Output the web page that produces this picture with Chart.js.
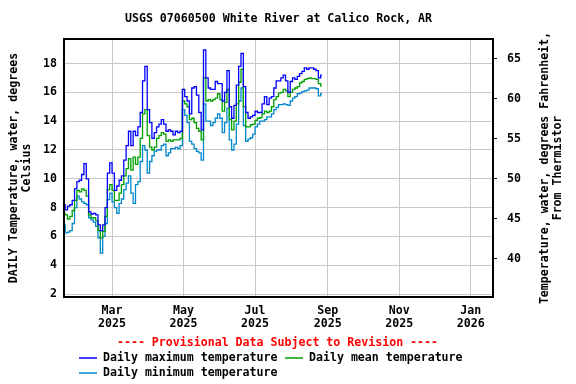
<!DOCTYPE html>
<html>
<head>
<meta charset="utf-8">
<title>USGS 07060500 White River at Calico Rock, AR</title>
<script src="https://cdn.jsdelivr.net/npm/chart.js@4.4.1/dist/chart.umd.min.js"></script>
<style>
  html, body { margin: 0; padding: 0; background: #fff; }
  canvas { display: block; }
</style>
</head>
<body>
<canvas id="tempChart" width="576" height="384"></canvas>
<script>
//********************************   DATA   ********************************
// day of year 2025 (Jan 1 = 0), one reading every 2 days
const days = [
  18, 20, 22, 24, 26, 28, 30, 32, 34, 36, 38, 40, 42, 44, 46, 48, 50, 52, 54, 56,
  58, 60, 62, 64, 66, 68, 70, 72, 74, 76, 78, 80, 82, 84, 86, 88, 90, 92, 94, 96,
  98, 100, 102, 104, 106, 108, 110, 112, 114, 116, 118, 120, 122, 124, 126, 128, 130, 132, 134, 136,
  138, 140, 142, 144, 146, 148, 150, 152, 154, 156, 158, 160, 162, 164, 166, 168, 170, 172, 174, 176,
  178, 180, 182, 184, 186, 188, 190, 192, 194, 196, 198, 200, 202, 204, 206, 208, 210, 212, 214, 216,
  218, 220, 222, 224, 226, 228, 230, 232, 234, 236, 238
];
const maxTemp = [
  8.2, 7.85, 8.1, 8.2, 8.5, 9.3, 9.8, 9.9, 10.3, 11.05, 10.0, 7.7, 7.55, 7.6, 7.5, 6.8, 6.4, 6.8, 8.0, 10.4,
  11.1, 10.4, 9.2, 9.5, 9.9, 10.2, 11.3, 12.3, 13.3, 12.3, 13.3, 13.0, 13.6, 14.6, 16.8, 17.8, 14.8, 13.9, 12.8, 13.2,
  13.6, 13.8, 14.1, 13.8, 13.3, 13.4, 13.3, 13.05, 13.3, 13.2, 13.3, 16.2, 15.7, 15.4, 14.5, 16.3, 16.4, 15.8, 14.6, 13.4,
  18.95, 17.0, 16.3, 16.2, 16.2, 16.75, 16.6, 16.6, 15.4, 16.0, 17.5, 15.0, 14.2, 15.1, 16.5, 17.8, 18.7, 16.4, 14.6, 14.2,
  14.3, 14.4, 14.7, 14.6, 14.6, 15.2, 15.7, 15.15, 15.6, 15.7, 16.3, 16.8, 16.8, 17.0, 17.2, 16.8, 16.0, 16.75, 17.0, 16.9,
  17.1, 17.3, 17.45, 17.7, 17.6, 17.7, 17.7, 17.6, 17.5, 17.0, 17.2
];
const meanTemp = [
  7.6, 7.5, 7.2, 7.4, 7.8, 8.5, 9.2, 9.1, 9.3, 9.2, 8.8, 7.5, 7.3, 7.3, 7.1, 6.4, 5.9, 6.35, 7.4, 9.25,
  9.6, 9.2, 8.5, 8.5, 9.0, 9.6, 10.2, 10.7, 11.4, 10.6, 11.5, 11.0, 11.5, 12.8, 14.5, 14.8, 13.0, 12.2, 12.0, 12.2,
  12.8, 13.0, 13.2, 13.1, 12.6, 12.7, 12.6, 12.7, 12.7, 12.7, 12.8, 15.4, 15.2, 15.0, 14.1, 14.2, 13.9, 13.5, 13.3, 12.7,
  17.0, 15.4, 15.5, 15.4, 15.5, 15.6, 15.9, 15.5, 14.7, 15.3, 16.2, 14.1, 13.4, 14.0, 15.2, 16.7, 17.6, 15.0, 13.6, 13.6,
  13.75, 13.8, 14.05, 14.2, 14.25, 14.5, 14.7, 14.6, 14.7, 15.0, 15.5, 15.7, 15.95, 16.0, 16.2, 16.1, 15.7, 16.0, 16.2, 16.3,
  16.4, 16.65, 16.75, 16.9, 16.95, 17.0, 16.95, 16.95, 16.9, 16.6, 16.45
];
const minTemp = [
  6.8, 6.25, 6.3, 6.4, 6.9, 8.0, 8.8, 8.6, 8.4, 8.3, 8.2, 7.3, 7.15, 7.0, 6.7, 5.9, 4.85, 6.0, 6.9, 8.55,
  9.0, 8.4, 8.0, 7.6, 8.3, 8.6, 9.25, 9.7, 10.2, 9.0, 8.3, 9.6, 9.8, 11.2, 12.3, 12.0, 10.4, 11.2, 11.6, 11.9,
  12.0, 12.0, 12.3, 12.4, 11.6, 11.8, 12.1, 12.1, 12.2, 12.1, 12.3, 14.8, 14.4, 13.9, 12.6, 12.4, 12.1, 11.9, 11.8, 11.3,
  15.2, 14.0, 14.0, 13.7, 13.9, 14.2, 14.5, 14.2, 13.2, 13.9, 14.9, 12.7, 12.0, 12.4, 13.8, 15.4, 16.3, 13.7, 12.6, 12.75,
  12.85, 13.1, 13.6, 13.8, 14.0, 14.0, 14.1, 14.3, 14.3, 14.5, 14.8, 14.95, 15.15, 15.15, 15.2, 15.15, 15.1, 15.4, 15.6, 15.7,
  15.9, 15.95, 16.05, 16.1, 16.15, 16.3, 16.3, 16.3, 16.25, 15.75, 15.9
];
const celsiusTicks = [2, 4, 6, 8, 10, 12, 14, 16, 18];
const fahrenheitTicks = [40, 45, 50, 55, 60, 65];
const monthTickDays = [59, 120, 181, 243, 304, 365];
const monthTickLabels = [
  ['Mar', '2025'], ['May', '2025'], ['Jul', '2025'], ['Sep', '2025'], ['Nov', '2025'], ['Jan', '2026']
];

//********************************   SETUP   ********************************
const cMin = 1.8, cMax = 19.7;
const toF = c => c * 9 / 5 + 32;
const FONT = 'bold 11.6px "DejaVu Sans Mono"';

Chart.defaults.font.family = '"DejaVu Sans Mono"';
Chart.defaults.font.size = 11.6;
Chart.defaults.font.weight = 'bold';
Chart.defaults.font.lineHeight = 1.1;
Chart.defaults.color = '#000';

const points = arr => days.map((d, i) => ({x: d, y: arr[i]}));

const series = [
  {label: 'Daily maximum temperature', data: maxTemp, color: '#0000ff'},
  {label: 'Daily mean temperature', data: meanTemp, color: '#00a000'},
  {label: 'Daily minimum temperature', data: minTemp, color: '#0088cc'}
];

// title, axis titles, frame and legend
const decorations = {
  id: 'decorations',
  afterDraw(chart) {
    const {ctx, chartArea: a} = chart;
    const midX = (a.left + a.right) / 2;
    const midY = (a.top + a.bottom) / 2;
    ctx.save();
    ctx.strokeStyle = '#000';
    ctx.lineWidth = 2;
    ctx.strokeRect(a.left, a.top, a.right - a.left, a.bottom - a.top);

    ctx.font = FONT;
    ctx.textAlign = 'center';
    ctx.textBaseline = 'middle';
    ctx.fillStyle = '#000';
    ctx.fillText('USGS 07060500 White River at Calico Rock, AR', midX, 19);

    const vText = (txt, x) => {
      ctx.save();
      ctx.translate(x, midY);
      ctx.rotate(-Math.PI / 2);
      ctx.fillText(txt, 0, 0);
      ctx.restore();
    };
    vText('DAILY Temperature, water, degrees', 14);
    vText('Celsius', 27);
    vText('Temperature, water, degrees Fahrenheit,', 545);
    vText('From Thermistor', 558);

    ctx.fillStyle = '#ff0000';
    ctx.fillText('---- Provisional Data Subject to Revision ----', midX - 1, 343);

    // legend
    const slots = [{x: 79, y: 358}, {x: 285, y: 358}, {x: 79, y: 373}];
    ctx.textAlign = 'left';
    series.forEach((s, i) => {
      const p = slots[i];
      ctx.strokeStyle = s.color;
      ctx.lineWidth = 1.5;
      ctx.beginPath();
      ctx.moveTo(p.x, p.y);
      ctx.lineTo(p.x + 18, p.y);
      ctx.stroke();
      ctx.fillStyle = '#000';
      ctx.fillText(s.label, p.x + 24, p.y);
    });
    ctx.restore();
  }
};

const tempChart = new Chart(document.getElementById('tempChart').getContext('2d'), {
  type: 'line',
  data: {
    datasets: series.map(s => ({
      label: s.label,
      data: points(s.data),
      borderColor: s.color,
      borderWidth: 1.3,
      pointRadius: 0,
      stepped: 'middle',
      fill: false,
      yAxisID: 'y'
    }))
  },
  options: {
    responsive: false,
    animation: false,
    devicePixelRatio: 1,
    layout: {padding: {top: 39, left: 0, right: 0, bottom: 0}},
    plugins: {legend: {display: false}, tooltip: {enabled: false}, title: {display: false}},
    scales: {
      x: {
        type: 'linear',
        min: 18,
        max: 384,
        afterBuildTicks: scale => { scale.ticks = monthTickDays.map(v => ({value: v})); },
        afterFit: scale => { scale.height = 87; },
        grid: {color: '#c8c8c8', drawTicks: false},
        border: {display: false},
        ticks: {
          autoSkip: false,
          maxRotation: 0,
          padding: 8,
          callback: (value, index) => monthTickLabels[index]
        }
      },
      y: {
        type: 'linear',
        position: 'left',
        min: cMin,
        max: cMax,
        afterBuildTicks: scale => { scale.ticks = celsiusTicks.map(v => ({value: v})); },
        afterFit: scale => { scale.width = 64; },
        grid: {color: '#c8c8c8', drawTicks: false},
        border: {display: false},
        ticks: {padding: 7}
      },
      yF: {
        type: 'linear',
        position: 'right',
        min: toF(cMin),
        max: toF(cMax),
        afterBuildTicks: scale => { scale.ticks = fahrenheitTicks.map(v => ({value: v})); },
        afterFit: scale => { scale.width = 83; },
        grid: {drawOnChartArea: false, drawTicks: true, tickLength: 4, color: '#000'},
        border: {display: false},
        ticks: {padding: 10}
      }
    }
  },
  plugins: [decorations]
});
</script>
</body>
</html>
